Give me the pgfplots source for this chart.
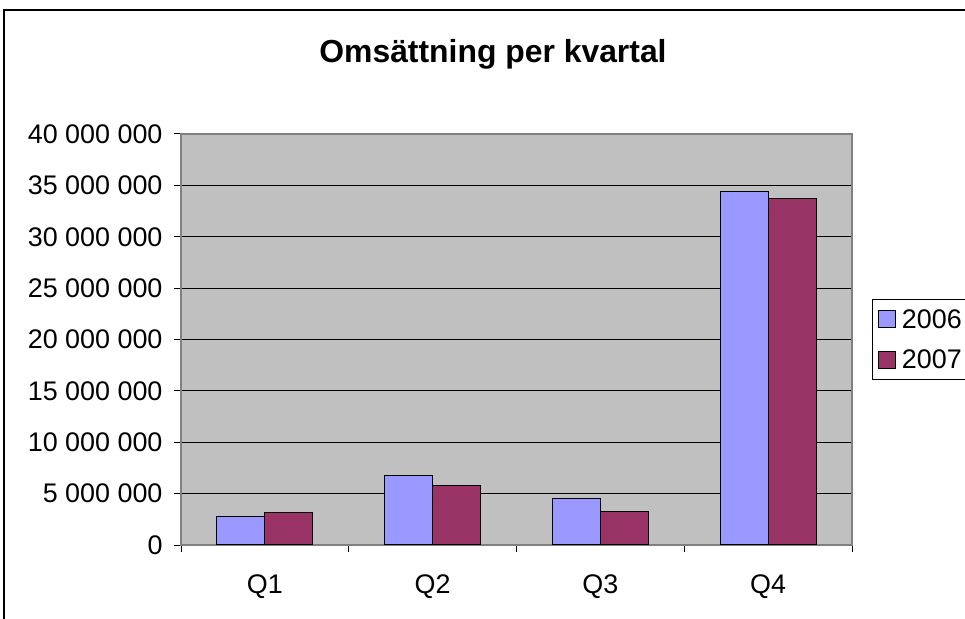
\documentclass[border=0pt]{standalone}
\usepackage{fontspec}
\setmainfont{Liberation Sans}
\usepackage{pgfplots}
\pgfplotsset{compat=1.18}
\definecolor{plotbg}{HTML}{C0C0C0}
\definecolor{frameg}{HTML}{808080}
\definecolor{cA}{HTML}{9999FF}
\definecolor{cB}{HTML}{993366}
\begin{document}
\begin{tikzpicture}
\useasboundingbox (0,0) rectangle (965bp,619bp);
\fill[white] (0,0) rectangle (965bp,619bp);
\draw[black, line width=1.2bp] (4bp,-2bp) -- (4bp,609bp) -- (970bp,609bp);
\node[font=\fontsize{32}{38}\selectfont\bfseries] at (493bp,565bp) {Omsättning per kvartal};
\begin{axis}[
  at={(181bp,74bp)}, anchor=south west,
  scale only axis, width=671bp, height=411bp,
  xmin=-0.5, xmax=3.5, ymin=0, ymax=40000000,
  scaled y ticks=false,
  ybar=0pt, bar width=48bp,
  axis background/.style={fill=plotbg},
  axis line style={draw=frameg, line width=1.2bp},
  ytick={0,5000000,10000000,15000000,20000000,25000000,30000000,35000000,40000000},
  yticklabels={0,5 000 000,10 000 000,15 000 000,20 000 000,25 000 000,30 000 000,35 000 000,40 000 000},
  ymajorgrids, grid style={black, line width=1bp},
  xtick={0,1,2,3}, xticklabels={Q1,Q2,Q3,Q4},
  minor xtick={-0.5,0.5,1.5,2.5,3.5},
  major x tick style={draw=none},
  tick align=outside, tick pos=left,
  major tick length=7bp, minor tick length=7bp,
  every tick/.style={black, line width=1bp},
  tick label style={font=\fontsize{27}{32}\selectfont},
  xticklabel style={yshift=-19bp},
  yticklabel style={xshift=-8bp},
  legend style={at={(1,0.5)}, anchor=west, xshift=20bp, draw=black, fill=white, line width=1bp,
    font=\fontsize{27}{32}\selectfont, inner xsep=5bp, inner ysep=8bp, row sep=16bp},
  legend cell align=left,
  legend image code/.code={\path[draw=none,fill=none] (0bp,0bp) -- (22bp,0bp);\draw[#1, draw=black, line width=1bp] (0bp,-8.5bp) rectangle (17bp,8.5bp);},
]
\addplot[fill=cA, draw=black, line width=1.2bp] coordinates {(0,2750000) (1,6730000) (2,4510000) (3,34390000)};
\addplot[fill=cB, draw=black, line width=1.2bp] coordinates {(0,3140000) (1,5780000) (2,3270000) (3,33740000)};
\legend{2006,2007}
\end{axis}
\end{tikzpicture}
\end{document}
